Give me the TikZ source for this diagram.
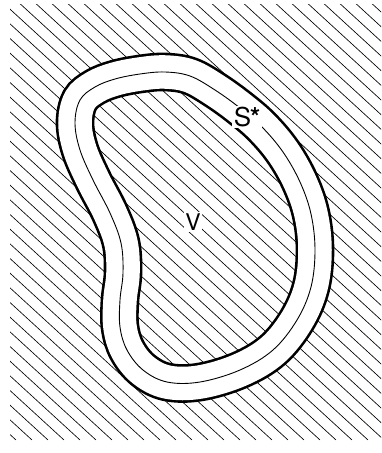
\documentclass[tikz,border=0pt]{standalone}
\usepackage{fontspec}
\setmainfont{TeX Gyre Heros}

\newcommand{\Hatch}[5]%
% left, top, right, bottom, spacing
{ \begin{scope}
    \clip (#1,#2) rectangle (#3,#4);
    \foreach \I in {-40,...,30}
    {   \draw[hatchline] (#5*\I,0) -- ++(480,440);
    }
  \end{scope}
}

\begin{document}
\begin{tikzpicture}
[   x=1pt, y=-1pt,
    hatchline/.style={line width=0.65pt},
    band/.style={line width=2.6pt, double=white, double distance=33.5pt},
    midline/.style={line width=0.9pt},
    tag/.style={fill=white, inner sep=1.5pt}
]
    \useasboundingbox (0,0) rectangle (381,453);
    \Hatch{10}{4}{381}{453}{16}

    % the shell round V
    \draw[band] plot[smooth cycle, tension=0.6] coordinates
    {   (80,100) (95,87) (115,79) (140,74) (165,72) (190,76) (215,90)
        (240,108) (262,127) (283,152) (300,182) (311,214) (315,250)
        (311,287) (297,320) (273,350) (240,370) (200,382) (167,382)
        (143,370) (127,350) (120,327) (120,300) (123,273) (121,243)
        (110,213) (93,180) (80,150) (75,123)
    };
    \draw[midline] plot[smooth cycle, tension=0.6] coordinates
    {   (80,100) (95,87) (115,79) (140,74) (165,72) (190,76) (215,90)
        (240,108) (262,127) (283,152) (300,182) (311,214) (315,250)
        (311,287) (297,320) (273,350) (240,370) (200,382) (167,382)
        (143,370) (127,350) (120,327) (120,300) (123,273) (121,243)
        (110,213) (93,180) (80,150) (75,123)
    };

    \node[tag, font=\fontsize{26}{26}\selectfont] (S) at (247,117)
        {S\hspace{-1pt}\textbf{*}};
    \node[tag, font=\fontsize{23}{23}\selectfont] (V) at (193,222) {V};
\end{tikzpicture}
\end{document}
